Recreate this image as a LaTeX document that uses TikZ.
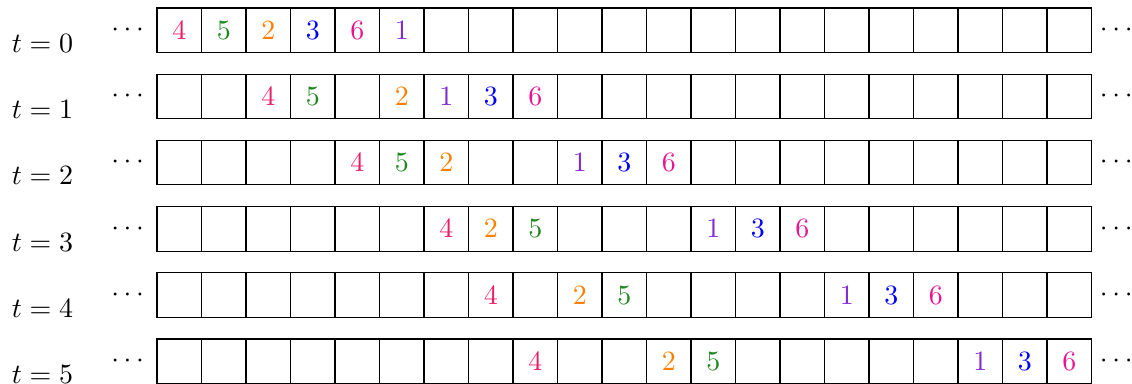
\documentclass[tikz,border=0pt]{standalone}
\usepackage{amsmath,amssymb}
\usepackage{xcolor}
\usepackage{tikz}
\usetikzlibrary{positioning}

\definecolor{num1}{RGB}{128,40,210}
\definecolor{num2}{RGB}{255,128,0}
\definecolor{num3}{RGB}{0,0,255}
\definecolor{num4}{RGB}{235,30,100}
\definecolor{num5}{RGB}{30,135,30}
\definecolor{num6}{RGB}{232,20,145}

\begin{document}
\begin{tikzpicture}[every node/.style={font=\normalsize},
  cell/.style={draw, minimum width=0.56cm, minimum height=0.56cm, inner sep=0pt, outer sep=0pt},
  tok/.style={inner sep=0pt}]
\useasboundingbox (0,0) rectangle (14.246,-4.82);
% one tape per time step
\foreach \r in {0,...,5}{
  \foreach \i in {0,...,20}
    \node[cell] (c\r-\i) at ({1.976+0.56*(\i+0.5)}, {-0.381-0.833*\r}) {};
  \node[left=0.1cm of c\r-0, inner sep=0pt] (ldots\r) {$\cdots$};
  \node[right=0.1cm of c\r-20, inner sep=0pt] (rdots\r) {$\cdots$};
  \node[anchor=base] (time\r) at (0.535, {-0.661-0.833*\r}) {$t=\r$};
}
% particles on the tape
\foreach \r/\lst in {0/{0/4,1/5,2/2,3/3,4/6,5/1},
                     1/{2/4,3/5,5/2,6/1,7/3,8/6},
                     2/{4/4,5/5,6/2,9/1,10/3,11/6},
                     3/{6/4,7/2,8/5,12/1,13/3,14/6},
                     4/{7/4,9/2,10/5,15/1,16/3,17/6},
                     5/{8/4,11/2,12/5,18/1,19/3,20/6}}
  \foreach \i/\d in \lst
    \node[tok, text=num\d] (p\r-\d) at (c\r-\i) {$\d$};
\end{tikzpicture}
\end{document}
